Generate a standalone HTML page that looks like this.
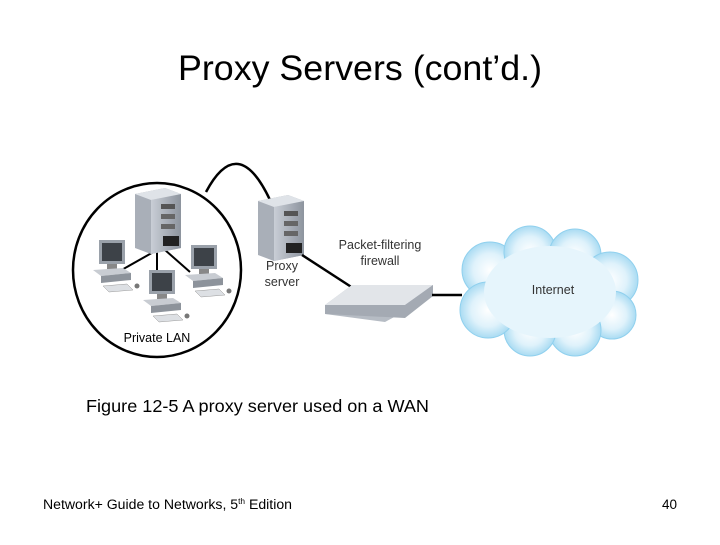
<!DOCTYPE html>
<html><head><style>
body{margin:0;background:#fff;width:720px;height:540px;overflow:hidden;font-family:"Liberation Sans",sans-serif}
</style></head><body>
<svg width="720" height="540" xmlns="http://www.w3.org/2000/svg" font-family="Liberation Sans, sans-serif">
<defs>
<linearGradient id="sv" x1="0" x2="1"><stop offset="0" stop-color="#c9ced6"/><stop offset="1" stop-color="#8d949e"/></linearGradient>
<radialGradient id="cl" cx="0.5" cy="0.5" r="0.6"><stop offset="0" stop-color="#ffffff"/><stop offset="0.5" stop-color="#dff2fb"/><stop offset="1" stop-color="#8fd0ee"/></radialGradient>
<g id="server">
<path d="M0 6 L30 0 L46 6 L46 60 L16 66 L0 60 Z" fill="#a9afb8"/>
<path d="M16 12 L46 6 L46 60 L16 66 Z" fill="url(#sv)"/>
<path d="M0 6 L30 0 L46 6 L16 12 Z" fill="#dfe3e8"/>
<rect x="26" y="16" width="14" height="5" fill="#555"/>
<rect x="26" y="26" width="14" height="5" fill="#666"/>
<rect x="26" y="36" width="14" height="5" fill="#666"/>
<rect x="28" y="48" width="16" height="10" fill="#222"/>
</g>
<g id="pc">
<rect x="6" y="0" width="26" height="24" fill="#9aa1aa"/>
<rect x="9" y="3" width="20" height="18" fill="#3d4248"/>
<rect x="14" y="24" width="10" height="5" fill="#888"/>
<path d="M0 30 L30 28 L38 33 L8 36 Z" fill="#c8ccd2"/>
<path d="M8 36 L38 33 L38 40 L8 43 Z" fill="#8d939b"/>
<path d="M10 46 L34 44 L40 50 L16 52 Z" fill="#dde0e4" stroke="#999" stroke-width="0.5"/>
<circle cx="44" cy="46" r="2.5" fill="#777"/>
</g>
</defs>
<text x="360" y="80" font-size="35" text-anchor="middle" fill="#000" textLength="364" lengthAdjust="spacingAndGlyphs">Proxy Servers (cont’d.)</text>

<ellipse cx="157" cy="270" rx="84" ry="87" fill="none" stroke="#000" stroke-width="2.5"/>
<path d="M206 192 Q238 132 270 200" fill="none" stroke="#000" stroke-width="2.5"/>
<line x1="157" y1="250" x2="118" y2="272" stroke="#000" stroke-width="2"/>
<line x1="157" y1="250" x2="157" y2="278" stroke="#000" stroke-width="2"/>
<line x1="165" y1="250" x2="190" y2="272" stroke="#000" stroke-width="2"/>
<use href="#server" x="135" y="188"/>
<use href="#pc" x="93" y="240"/>
<use href="#pc" x="185" y="245"/>
<use href="#pc" x="143" y="270"/>
<text x="157" y="342" font-size="12.5" text-anchor="middle">Private LAN</text>

<use href="#server" x="258" y="195"/>
<text x="282" y="270" font-size="12.5" text-anchor="middle" fill="#333">Proxy</text>
<text x="282" y="286" font-size="12.5" text-anchor="middle" fill="#333">server</text>
<line x1="302" y1="255" x2="356" y2="290" stroke="#000" stroke-width="2.5"/>
<text x="380" y="249" font-size="12.5" text-anchor="middle" fill="#333">Packet-filtering</text>
<text x="380" y="265" font-size="12.5" text-anchor="middle" fill="#333">firewall</text>
<path d="M325 305 L352 285 L433 285 L433 296 L385 322 L325 314 Z" fill="#b6bcc4"/>
<path d="M325 305 L352 285 L433 285 L405 305 Z" fill="#e2e5e9"/>
<path d="M325 305 L405 305 L433 285 L433 296 L405 318 L325 314 Z" fill="#a4aab3"/>
<line x1="432" y1="295" x2="462" y2="295" stroke="#000" stroke-width="2.5"/>

<g fill="url(#cl)" stroke="#8fd0ee" stroke-width="1">
<circle cx="490" cy="270" r="28"/><circle cx="530" cy="252" r="26"/><circle cx="575" cy="255" r="26"/>
<circle cx="610" cy="280" r="28"/><circle cx="612" cy="315" r="24"/><circle cx="575" cy="330" r="26"/>
<circle cx="530" cy="330" r="26"/><circle cx="488" cy="310" r="28"/>
</g>
<ellipse cx="550" cy="292" rx="66" ry="46" fill="#e6f5fc"/>
<text x="553" y="294" font-size="12.5" text-anchor="middle" fill="#333">Internet</text>

<text x="86" y="412" font-size="17.5" textLength="343" lengthAdjust="spacingAndGlyphs">Figure 12-5 A proxy server used on a WAN</text>
<text x="43" y="509" font-size="13.5" textLength="249" lengthAdjust="spacingAndGlyphs">Network+ Guide to Networks, 5<tspan font-size="8" dy="-5">th</tspan><tspan dy="5"> Edition</tspan></text>
<text x="677" y="509" font-size="13.5" text-anchor="end">40</text>
</svg>
</body></html>
